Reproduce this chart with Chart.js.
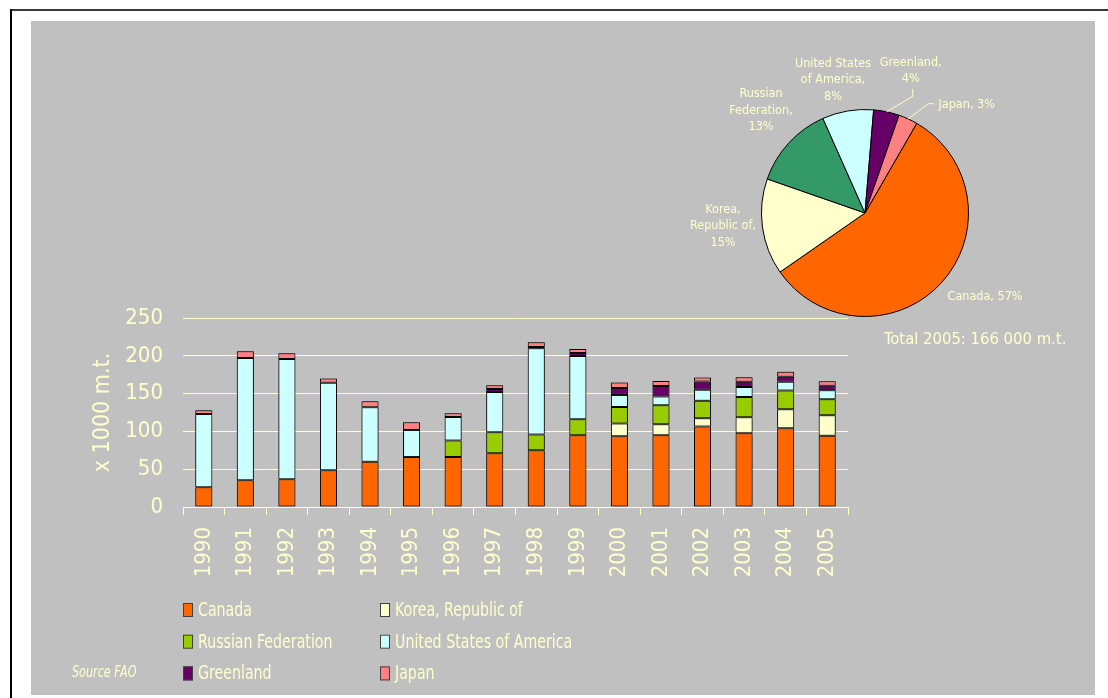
<!DOCTYPE html>
<html>
<head>
<meta charset="utf-8">
<title>Catch by country 1990-2005</title>
<script src="https://cdn.jsdelivr.net/npm/chart.js@4.4.0/dist/chart.umd.min.js"></script>
<style>
  html, body { margin: 0; padding: 0; background: #fff; }
  body { width: 1108px; height: 698px; position: relative; overflow: hidden; }
  #frame-top { position: absolute; left: 10px; top: 9px; width: 1098px; height: 2px; background: #3a3a3a; }
  #frame-left { position: absolute; left: 10px; top: 9px; width: 2px; height: 689px; background: #000; }
  #panel { position: absolute; left: 31px; top: 21px; width: 1064px; height: 674px; background: #c0c0c0; }
  #bar-chart { position: absolute; left: 0; top: 0; }
  #pie-chart { position: absolute; left: 649px; top: 19px; }
</style>
</head>
<body>
<div id="frame-top"></div>
<div id="frame-left"></div>
<div id="panel">
  <canvas id="bar-chart" width="1064" height="674"></canvas>
  <canvas id="pie-chart" width="410" height="310"></canvas>
</div>
<script>
const years = ['1990', '1991', '1992', '1993', '1994', '1995', '1996', '1997',
  '1998', '1999', '2000', '2001', '2002', '2003', '2004', '2005'];

// x 1000 m.t. (bottom to top)
const canada = [26, 35.5, 36.7, 48.6, 60, 66, 66, 71, 75, 95, 93.6, 95, 106.4, 97.6, 104.2, 94.4];
const korea = [null, null, null, null, null, null, null, null, null, null, 16.7, 14.5, 11, 21, 25, 27];
const russia = [null, null, null, null, null, null, 22, 28, 21, 21, 22, 25, 23, 27, 25, 21];
const usa = [97, 161.6, 159, 115.6, 72, 36, 31, 53, 114, 83.6, 16, 11.7, 14.6, 13, 11.5, 12];
const greenland = [null, null, null, null, null, null, null, 4, 1.5, 4, 9, 14, 11, 7, 6.6, 6];
const japan = [5, 9, 7.6, 5.8, 8, 10, 5, 5, 6.5, 5.5, 7.5, 6.5, 5.3, 6, 6.6, 6];

const countries = ['Canada', 'Korea, Republic of', 'Russian Federation',
  'United States of America', 'Greenland', 'Japan'];
const barColors = ['#ff6600', '#ffffcc', '#99cc00', '#ccffff', '#660066', '#ff8080'];

// 2005 shares (%)
const pieShares = [57, 15, 13, 8, 4, 3];
const pieColors = ['#ff6600', '#ffffcc', '#339966', '#ccffff', '#660066', '#ff8080'];
const pieTotal = '166 000';

const yTicks = [0, 50, 100, 150, 200, 250];

const TEXT = '#ffffcc';
const SANS = "'DejaVu Sans Condensed', 'DejaVu Sans', sans-serif";

const seriesValues = [canada, korea, russia, usa, greenland, japan];

const barShadow = {
  id: 'barShadow',
  beforeDatasetsDraw(chart) {
    const ctx = chart.ctx;
    ctx.save();
    ctx.shadowColor = 'rgba(0, 0, 0, 0.6)';
    ctx.shadowBlur = 4;
  },
  afterDatasetsDraw(chart) {
    chart.ctx.restore();
  },
};

// the original legend font is tall and narrow, so squeeze the text a bit
function narrowText(ctx, text, x, y, squeeze) {
  ctx.save();
  ctx.translate(x, y);
  ctx.scale(squeeze, 1);
  ctx.fillText(text, 0, 0);
  ctx.restore();
}

// two-column legend under the axis plus the source note
const legendGrid = {
  id: 'legendGrid',
  afterDraw(chart) {
    const ctx = chart.ctx;
    const left = chart.chartArea.left;
    const cols = [left, left + 197];
    const rowTop = chart.chartArea.bottom + 103;
    const rowGap = 31.7;

    ctx.save();
    ctx.textBaseline = 'middle';
    ctx.textAlign = 'left';
    chart.data.datasets.forEach((ds, i) => {
      const x = cols[i % 2];
      const y = rowTop + Math.floor(i / 2) * rowGap;
      ctx.fillStyle = ds.backgroundColor;
      ctx.fillRect(x, y - 7, 10, 14);
      ctx.strokeStyle = '#404040';
      ctx.lineWidth = 1;
      ctx.strokeRect(x + 0.5, y - 6.5, 9, 13);
      ctx.fillStyle = TEXT;
      ctx.font = `19px ${SANS}`;
      narrowText(ctx, ds.label, x + 15, y + 1, 0.83);
    });
    ctx.font = `italic 15px ${SANS}`;
    ctx.fillStyle = TEXT;
    narrowText(ctx, 'Source FAO', 41, rowTop + 2 * rowGap, 0.83);
    ctx.restore();
  },
};

new Chart(document.getElementById('bar-chart'), {
  type: 'bar',
  data: {
    labels: years,
    datasets: countries.map((name, i) => ({
      label: name,
      data: seriesValues[i],
      backgroundColor: barColors[i],
      borderColor: '#000',
      borderWidth: 1,
      borderSkipped: false,
      categoryPercentage: 1,
      barPercentage: 0.41,
    })),
  },
  options: {
    responsive: false,
    animation: false,
    layout: { padding: { top: 297, right: 247, bottom: 0, left: 0 } },
    plugins: {
      legend: { display: false },
      tooltip: { enabled: false },
    },
    scales: {
      x: {
        stacked: true,
        afterFit(scale) { scale.height = 188; },
        grid: {
          drawOnChartArea: false,
          drawTicks: true,
          tickLength: 8,
          color: TEXT,
        },
        border: { display: true, color: TEXT, width: 1 },
        ticks: {
          color: TEXT,
          font: { family: SANS, size: 22 },
          minRotation: 90,
          maxRotation: 90,
          autoSkip: false,
          padding: 12,
        },
      },
      y: {
        stacked: true,
        min: 0,
        max: 250,
        afterFit(scale) { scale.width = 152; },
        afterBuildTicks(scale) { scale.ticks = yTicks.map((v) => ({ value: v })); },
        grid: { color: TEXT, drawTicks: false },
        border: { display: false },
        ticks: {
          color: TEXT,
          font: { family: SANS, size: 22 },
          padding: 20,
        },
        title: {
          display: true,
          text: 'x 1000 m.t.',
          color: TEXT,
          font: { family: SANS, size: 23 },
          padding: { top: 58, bottom: 0 },
        },
      },
    },
  },
  plugins: [barShadow, legendGrid],
});

// label placement around the pie, relative to its centre
const pieLabelLayout = [
  { dx: 120, dy: 84, wrap: 200 },
  { dx: -142, dy: -3.3, wrap: 80 },
  { dx: -104, dy: -119, wrap: 80 },
  { dx: -32, dy: -149.3, wrap: 80 },
  { dx: 45.7, dy: -150.6, wrap: 78, leader: [[47.7, -124], [47.7, -116.6]] },
  { dx: 101.7, dy: -108.3, wrap: 200, leader: [[69, -109.3], [63.3, -109.3]] },
];

function wrapText(ctx, text, maxWidth) {
  const words = text.split(' ');
  const lines = [];
  let line = '';
  words.forEach((word) => {
    const test = line ? `${line} ${word}` : word;
    if (line && ctx.measureText(test).width > maxWidth) {
      lines.push(line);
      line = word;
    } else {
      line = test;
    }
  });
  if (line) lines.push(line);
  return lines;
}

const pieLabels = {
  id: 'pieLabels',
  afterDatasetsDraw(chart) {
    const ctx = chart.ctx;
    const arcs = chart.getDatasetMeta(0).data;
    const values = chart.data.datasets[0].data;
    ctx.save();
    ctx.font = `12.5px ${SANS}`;
    ctx.fillStyle = TEXT;
    ctx.strokeStyle = TEXT;
    ctx.lineWidth = 1;
    ctx.textAlign = 'center';
    ctx.textBaseline = 'middle';

    arcs.forEach((arc, i) => {
      const lay = pieLabelLayout[i];
      const cx = arc.x;
      const cy = arc.y;
      const text = `${chart.data.labels[i]}, ${values[i]}%`;
      const lines = wrapText(ctx, text, lay.wrap);
      lines.forEach((ln, k) => {
        ctx.fillText(ln, cx + lay.dx, cy + lay.dy + k * 16.3);
      });

      if (lay.leader) {
        const mid = (arc.startAngle + arc.endAngle) / 2;
        ctx.beginPath();
        ctx.moveTo(cx + lay.leader[0][0], cy + lay.leader[0][1]);
        ctx.lineTo(cx + lay.leader[1][0], cy + lay.leader[1][1]);
        ctx.lineTo(cx + Math.cos(mid) * arc.outerRadius, cy + Math.sin(mid) * arc.outerRadius);
        ctx.stroke();
      }
    });

    const centre = arcs[0];
    ctx.font = `16.5px ${SANS}`;
    ctx.textAlign = 'left';
    ctx.fillText(`Total 2005: ${pieTotal} m.t.`, centre.x + 19, centre.y + 126.7);
    ctx.restore();
  },
};

new Chart(document.getElementById('pie-chart'), {
  type: 'pie',
  data: {
    labels: countries,
    datasets: [{
      data: pieShares,
      backgroundColor: pieColors,
      borderColor: '#000',
      borderWidth: 1,
    }],
  },
  options: {
    responsive: false,
    animation: false,
    rotation: 30,
    layout: { padding: { left: 81, top: 69, right: 121, bottom: 33 } },
    plugins: {
      legend: { display: false },
      tooltip: { enabled: false },
    },
  },
  plugins: [pieLabels],
});
</script>
</body>
</html>
